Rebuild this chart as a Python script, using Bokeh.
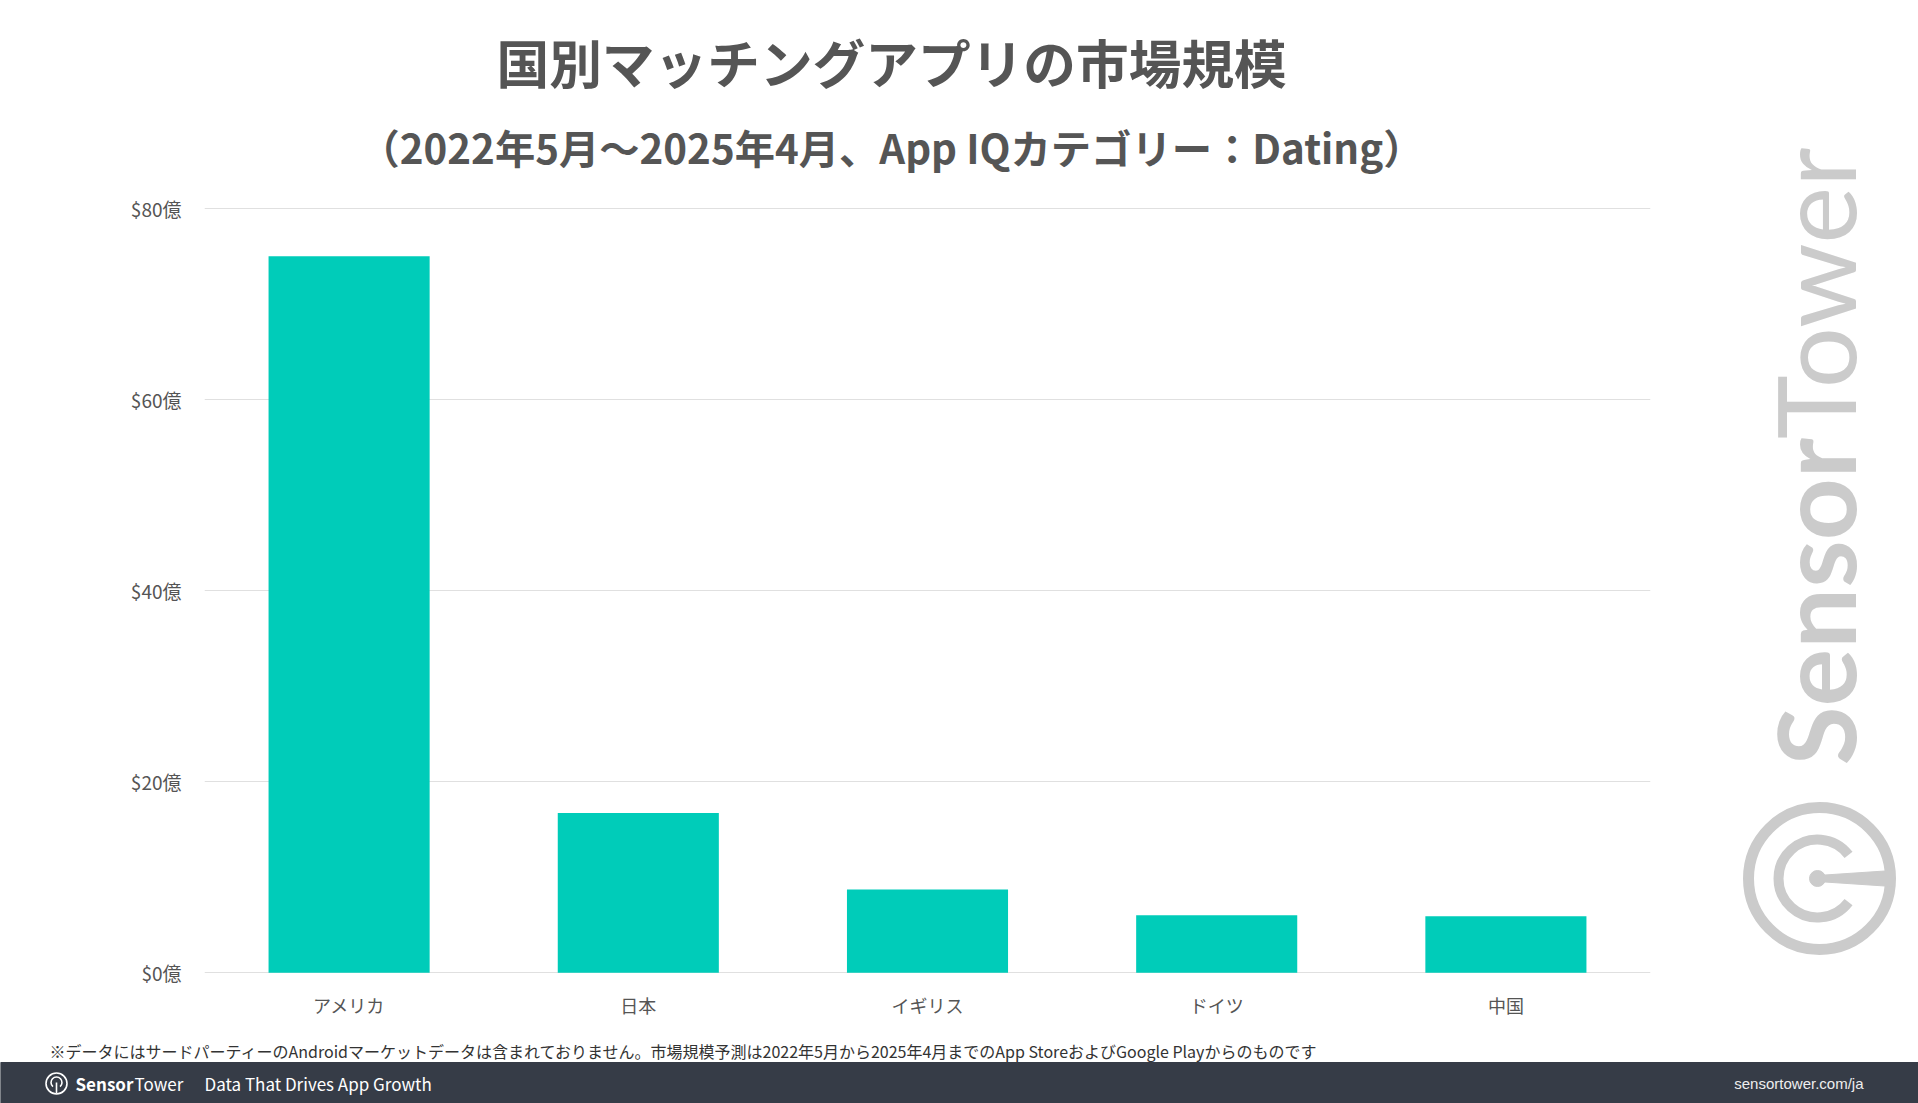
import math
from bokeh.plotting import figure
from bokeh.models import Range1d, FixedTicker
from bokeh.layouts import column, row
from bokeh.embed import file_html
from bokeh.resources import INLINE
from bokeh.core.properties import value

# ---------------- data ----------------
countries = ["アメリカ", "日本", "イギリス", "ドイツ", "中国"]
market_size_oku_usd = [75.0, 16.7, 8.7, 6.0, 5.9]
y_ticks = [0, 20, 40, 60, 80]
y_tick_labels = ["$0億", "$20億", "$40億", "$60億", "$80億"]

title_text = "国別マッチングアプリの市場規模"
subtitle_text = "（2022年5月～2025年4月、App IQカテゴリー：Dating）"
footnote_text = ("※データにはサードパーティーのAndroidマーケットデータは含まれておりません。"
                 "市場規模予測は2022年5月から2025年4月までのApp StoreおよびGoogle Playからのものです")
tagline_text = "Data That Drives App Growth"
url_text = "sensortower.com/ja"

# ---------------- styles ----------------
JP = value("Noto Sans CJK JP")
BAR = "#00CCB9"
TXT = "#555555"
GRID = "#e0e0e0"
WM = "#cbcbcb"
FOOT = "#363c47"


def deco(w, h, x0, y0):
    # decoration panel whose data units are page pixels (y grows downward)
    f = figure(width=w, height=h, x_range=Range1d(x0, x0 + w), y_range=Range1d(y0 + h, y0),
               output_backend="svg", toolbar_location=None, min_border=0,
               x_axis_type=None, y_axis_type=None, outline_line_color=None)
    return f


# ---------------- header ----------------
header = deco(1700, 176, 0, 0)
header.text(x=[496], y=[60], text=[title_text], text_font=JP, text_font_size="52.7px",
            text_font_style="bold", text_color=TXT, text_align="left", text_baseline="middle")
header.text(x=[359], y=[146], text=[subtitle_text], text_font=JP, text_font_size="40.3px",
            text_font_style="bold", text_color=TXT, text_align="left", text_baseline="middle")

# ---------------- chart ----------------
p = figure(x_range=countries, y_range=Range1d(-0.3, 80.3), width=1700, height=864,
           output_backend="svg", toolbar_location=None,
           min_border_left=204, min_border_right=50, min_border_top=29, min_border_bottom=65,
           outline_line_color=None)
p.vbar(x=countries, top=market_size_oku_usd, width=0.557, color=BAR, line_color=None)

p.yaxis.ticker = FixedTicker(ticks=y_ticks)
p.yaxis.major_label_overrides = {t: l for t, l in zip(y_ticks, y_tick_labels)}
for ax in (p.xaxis, p.yaxis):
    ax.axis_line_color = None
    ax.major_tick_line_color = None
    ax.minor_tick_line_color = None
    ax.major_label_text_font = "Noto Sans CJK JP"
    ax.major_label_text_color = TXT
p.yaxis.major_label_text_font_size = "19px"
p.yaxis.major_label_standoff = 17
p.xaxis.major_label_text_font_size = "18px"
p.xaxis.major_label_standoff = 10
p.xgrid.grid_line_color = None
p.ygrid.grid_line_color = GRID
p.ygrid.grid_line_width = 1

# ---------------- watermark ----------------
wm = deco(218, 1040, 1700, 0)
wm.text(x=[1813], y=[765], text=["Sensor"], angle=math.pi / 2, text_font=value("Lato"),
        text_font_size="108px", text_font_style="bold", text_color=WM,
        text_align="left", text_baseline="middle")
wm.text(x=[1813], y=[147], text=["Tower"], angle=math.pi / 2, text_font=value("Lato"),
        text_font_size="108px", text_color=WM, text_align="right", text_baseline="middle")
wm.circle(x=[1819], y=[878], radius=71, fill_color=None, line_color=WM, line_width=11)
wm.arc(x=[1817], y=[878], radius=39, start_angle=0.65, end_angle=2 * math.pi - 0.65,
       direction="anticlock", line_color=WM, line_width=10)
wm.scatter(x=[1817], y=[878], size=16, color=WM)
wm.patch(x=[1817, 1892, 1892, 1817], y=[875, 870, 886, 881], color=WM)

# ---------------- footer ----------------
foot = deco(1918, 63, 0, 1040)
foot.text(x=[49], y=[1050], text=[footnote_text], text_font=JP, text_font_size="16px",
          text_color="#333333", text_align="left", text_baseline="middle")
foot.quad(left=[0], right=[1918], top=[1062], bottom=[1103], color=FOOT)
foot.circle(x=[56], y=[1083], radius=10.5, fill_color=None, line_color="white", line_width=1.6)
foot.arc(x=[56], y=[1082], radius=5.5, start_angle=-math.pi / 2 + 0.7,
         end_angle=-math.pi / 2 - 0.7 + 2 * math.pi, direction="anticlock",
         line_color="white", line_width=1.6)
foot.segment(x0=[56], y0=[1082], x1=[56], y1=[1093], line_color="white", line_width=1.6)
foot.text(x=[75], y=[1083], text=["Sensor"], text_font=JP, text_font_size="17px",
          text_font_style="bold", text_color="white", text_align="left", text_baseline="middle")
foot.text(x=[134], y=[1083], text=["Tower"], text_font=JP, text_font_size="17px",
          text_color="white", text_align="left", text_baseline="middle")
foot.text(x=[204], y=[1083], text=[tagline_text], text_font=JP, text_font_size="17px",
          text_color="white", text_align="left", text_baseline="middle")
foot.text(x=[1863], y=[1083], text=[url_text], text_font=value("Liberation Sans"),
          text_font_size="15px", text_color="#eeeeee", text_align="right", text_baseline="middle")

# wrap plots in their own columns so that Bokeh does not align their frames
left = column(column(header), column(p))
layout = column(row(left, column(wm)), foot)
open("out.html", "w").write(file_html(layout, INLINE))
